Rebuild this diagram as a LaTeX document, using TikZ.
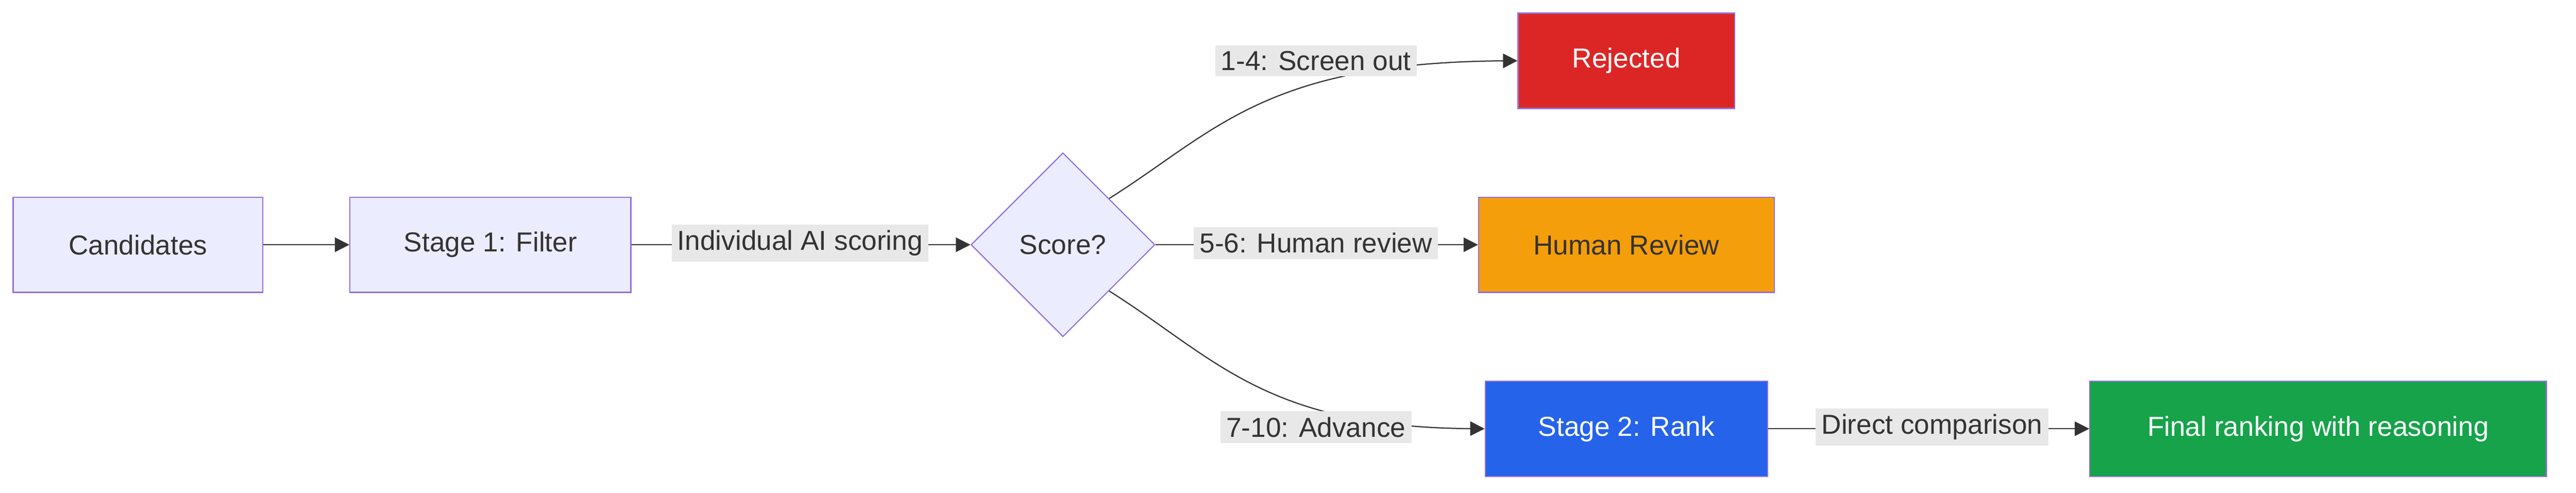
\documentclass[tikz,border=0pt]{standalone}
\usepackage{fontspec}
\setmainfont{Liberation Sans}
\usetikzlibrary{arrows.meta,shapes.geometric}
\definecolor{boxfill}{HTML}{ECECFF}
\definecolor{boxline}{HTML}{9370DB}
\definecolor{ink}{HTML}{333333}
\definecolor{lblfill}{HTML}{E8E8E8}
\definecolor{redbox}{HTML}{DC2626}
\definecolor{orangebox}{HTML}{F59E0B}
\definecolor{bluebox}{HTML}{2563EB}
\definecolor{greenbox}{HTML}{16A34A}
\begin{document}
\begin{tikzpicture}[
   x=0.02cm, y=0.02cm,
   font=\fontsize{9.5}{11}\selectfont,
   box/.style={rectangle, draw=boxline, fill=boxfill, text=ink, minimum height=1.16cm},
   decision/.style={diamond, draw=boxline, fill=boxfill, text=ink, minimum width=2.24cm, minimum height=2.24cm, inner sep=0pt},
   lbl/.style={fill=lblfill, text=ink, inner sep=2pt},
   arrow/.style={-{Triangle[length=5pt,width=5pt]}, draw=ink, thin}
]
\useasboundingbox (0,0) rectangle (1568,300);

% Main flow
\node[box, minimum width=3.04cm] (cand) at (84,151) {Candidates};
\node[box, minimum width=3.42cm] (filter) at (298.5,151) {Stage 1: Filter};
\node[decision] (score) at (647,151) {Score?};

% Outcomes
\node[box, fill=redbox, text=white, minimum width=2.64cm] (rej) at (990,263) {Rejected};
\node[box, fill=orangebox, minimum width=3.6cm] (human) at (990,151) {Human Review};
\node[box, fill=bluebox, text=white, minimum width=3.44cm] (rank) at (990,39) {Stage 2: Rank};
\node[box, fill=greenbox, text=white, minimum width=5.56cm] (final) at (1411,39) {Final ranking with reasoning};

% Arrows
\draw[arrow] (cand) -- (filter);
\draw[arrow] (filter) -- (score);
\draw[arrow] (score.north east) .. controls (740,220) and (770,262) .. (rej.west);
\draw[arrow] (score) -- (human);
\draw[arrow] (score.south east) .. controls (740,82) and (770,40) .. (rank.west);
\draw[arrow] (rank) -- (final);

% Labels
\node[lbl] (l1) at (487,152) {Individual AI scoring};
\node[lbl] (l2) at (801,263) {1-4: Screen out};
\node[lbl] (l3) at (801,152) {5-6: Human review};
\node[lbl] (l4) at (801,40) {7-10: Advance};
\node[lbl] (l5) at (1176,40) {Direct comparison};

\end{tikzpicture}
\end{document}
